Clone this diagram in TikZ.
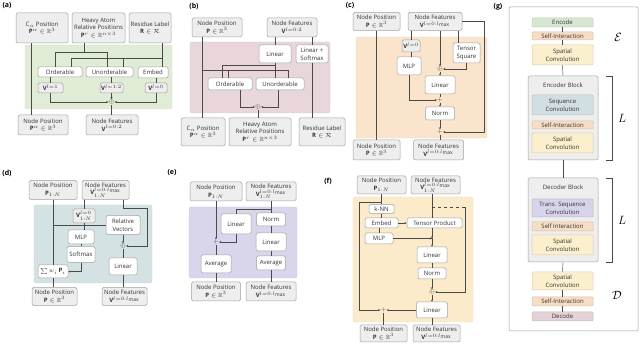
\documentclass[tikz,border=0pt]{standalone}
\usepackage{amsmath, amssymb}
\usepackage{fontspec}
\setmainfont{Open Sans}
\usetikzlibrary{arrows.meta, positioning, calc}
\definecolor{mGreen}{HTML}{E1ECD7}
\definecolor{mPink}{HTML}{E9D6DB}
\definecolor{mPeach}{HTML}{FBE4CC}
\definecolor{mBlueGray}{HTML}{D5E2E4}
\definecolor{mLilac}{HTML}{D9D5EB}
\definecolor{mCream}{HTML}{FCEBCB}
\definecolor{mBox}{HTML}{EEEEEE}
\definecolor{mEdge}{HTML}{A0A0A0}
\definecolor{mWire}{HTML}{4A4A4A}
\definecolor{mEnc}{HTML}{D8E7D2}
\definecolor{mSelf}{HTML}{F7DDC3}
\definecolor{mSpat}{HTML}{FBEFCD}
\definecolor{mSeq}{HTML}{D1DEE2}
\definecolor{mTrans}{HTML}{D6D3EA}
\definecolor{mDec}{HTML}{E4D2D9}
\newcommand{\figfont}{\fontsize{6}{7.8}\selectfont}

\begin{document}
\begin{tikzpicture}[x=1pt, y=-1pt,
    every node/.append style={font=\figfont, text=black!80},
    io/.style={draw=mEdge, fill=mBox, rounded corners=1.5pt, align=center, inner sep=0.5pt, line width=0.5pt},
    op/.style={draw=mEdge, fill=white, rounded corners=1.5pt, align=center, inner sep=0.5pt, line width=0.5pt},
    sz/.style 2 args={minimum width=#1pt, minimum height=#2pt},
    layer/.style={draw=#1!70!gray, fill=#1, rounded corners=1pt, align=center, inner sep=0.5pt, minimum width=61pt, line width=0.5pt},
    panel/.style={fill=#1, draw=#1!85!gray, line width=0.3pt, rounded corners=2pt},
    tag/.style={font=\bfseries\fontsize{7}{8}\selectfont, text=black},
    sumop/.style={inner sep=0pt, font=\fontsize{6}{6}\selectfont, text=mWire},
    big/.style={font=\fontsize{13}{13}\selectfont, text=black},
    wire/.style={draw=mWire, line width=0.45pt},
    arr/.style={wire, -{Stealth[length=2.2pt, width=2pt]}}]
  \useasboundingbox (0,0) rectangle (640,344);

  % (a) encoding
  \node[tag] (aTag) at (7,6) {(a)};
  \path[panel=mGreen] (25,45) rectangle (172,109);
  \node[io, sz={52}{30}] (aCa) at (42,28) {C$_\alpha$ Position\\$\mathbf{P}^{\alpha}\in\mathbb{R}^3$};
  \node[io, sz={53}{30}] (aHeavy) at (98.5,28) {Heavy Atom\\Relative Positions\\$\mathbf{P}^{r}\in\mathbb{R}^{n\times 3}$};
  \node[io, sz={42}{30}] (aRes) at (150,28) {Residue Label\\$\mathbf{R}\in\mathcal{R}$};
  \node[op, sz={44}{10}] (aOrd) at (60,72) {Orderable};
  \node[op, sz={47}{10}] (aUnord) at (109.5,72) {Unorderable};
  \node[op, sz={30}{11}] (aEmb) at (153,72.5) {Embed};
  \node[io, sz={25}{10}] (aV1) at (50.5,88) {$\mathbf{V}^{l=1}$};
  \node[io, sz={23}{10}] (aV12) at (111.5,88) {$\mathbf{V}^{l=1:2}$};
  \node[io, sz={22}{10}] (aV0) at (156,88) {$\mathbf{V}^{l=0}$};
  \node[sumop] (aSum) at (111.5,102) {$\oplus$};
  \node[io, sz={50}{20}] (aPos) at (43,125) {Node Position\\$\mathbf{P}^{\alpha}\in\mathbb{R}^3$};
  \node[io, sz={52}{20}] (aFeat) at (112,125) {Node Features\\$\mathbf{V}^{l=0:2}$};
  \coordinate (aJh) at (84,52);
  \coordinate (aJhl) at (55,52);
  \coordinate (aJhr) at (107,52);
  \coordinate (aJr) at (162,58);
  \coordinate (aJrl) at (71,58);
  \coordinate (aJrm) at (123,58);
  \draw[wire] ([xshift=-11pt]aCa.south) -- ([xshift=-11pt]aCa.south |- aPos.north);
  \draw[wire] (aJh |- aHeavy.south) -- (aJh);
  \draw[wire] (aJhl |- aOrd.north) -- (aJhl) -- (aJhr) -- (aJhr |- aUnord.north);
  \draw[wire] (aJr |- aRes.south) -- (aJr |- aEmb.north);
  \draw[wire] (aJr) -- (aJrl) -- (aJrl |- aOrd.north);
  \draw[wire] (aJrm) -- (aJrm |- aUnord.north);
  \draw[wire] (aV1.north |- aOrd.south) -- (aV1.north);
  \draw[wire] (aV12.north |- aUnord.south) -- (aV12.north);
  \draw[wire] (aV0.north |- aEmb.south) -- (aV0.north);
  \draw[arr] (aV1.south) |- (aSum.west);
  \draw[arr] (aV12.south) -- (aSum.north);
  \draw[arr] (aV0.south) |- (aSum.east);
  \draw[wire] (aSum.south) -- (aSum.south |- aFeat.north);

  % (b) decoding
  \node[tag] (bTag) at (194,6) {(b)};
  \path[panel=mPink] (190,42) rectangle (330,113);
  \node[io, sz={50}{19}] (bPosIn) at (217,27.5) {Node Position\\$\mathbf{P}\in\mathbb{R}^3$};
  \node[io, sz={50}{19}] (bFeatIn) at (292,27.5) {Node Features\\$\mathbf{V}^{l=0:2}$};
  \node[op, sz={32}{18}] (bLin) at (275,54) {Linear};
  \node[op, sz={32}{18}] (bLinSm) at (312,54) {Linear +\\Softmax};
  \node[op, sz={44}{12}] (bOrd) at (230,84) {Orderable};
  \node[op, sz={48}{12}] (bUnord) at (280,84) {Unorderable};
  \node[sumop] (bSum) at (258,107) {$\oplus$};
  \node[io, sz={44}{28}] (bCa) at (203,132) {C$_\alpha$ Position\\$\mathbf{P}^{\alpha}\in\mathbb{R}^3$};
  \node[io, sz={62}{28}] (bHeavy) at (260,132) {Heavy Atom\\Relative Positions\\$\mathbf{P}^{r}\in\mathbb{R}^{n\times 3}$};
  \node[io, sz={46}{28}] (bRes) at (322,132) {Residue Label\\$\mathbf{R}\in\mathcal{R}$};
  \coordinate (bJl) at (275,65);
  \coordinate (bJll) at (222,65);
  \coordinate (bJp) at (202,70);
  \coordinate (bJpl) at (228,70);
  \coordinate (bJpr) at (288,70);
  \draw[wire] ([xshift=-15pt]bPosIn.south) -- ([xshift=-15pt]bPosIn.south |- bCa.north);
  \draw[wire] (bLin.north |- bFeatIn.south) -- (bLin.north);
  \draw[wire] (bLinSm.north |- bFeatIn.south) -- (bLinSm.north);
  \draw[wire] (bLinSm.south) -- (bLinSm.south |- bRes.north);
  \draw[wire] (bLin.south) -- (bLin.south |- bUnord.north);
  \draw[wire] (bJl) -- (bJll) -- (bJll |- bOrd.north);
  \draw[wire] (bJp) -- (bJpr) -- (bJpr |- bUnord.north);
  \draw[wire] (bJpl) -- (bJpl |- bOrd.north);
  \draw[arr] ([xshift=10pt]bOrd.south) |- (bSum.west);
  \draw[arr] ([xshift=-2pt]bUnord.south) |- (bSum.east);
  \draw[wire] (bSum.south) -- (bSum.south |- bHeavy.north);

  % (c) self-interaction
  \node[tag] (cTag) at (350,6) {(c)};
  \path[panel=mPeach] (356,37) rectangle (487,138);
  \node[io, sz={47}{18}] (cPosIn) at (376.5,21.5) {Node Position\\$\mathbf{P}\in\mathbb{R}^3$};
  \node[io, sz={54}{18}] (cFeatIn) at (435,21.5) {Node Features\\$\mathbf{V}^{l=0:l_{\max}}$};
  \node[io, sz={18}{12}] (cV0) at (411,46) {$\mathbf{V}^{l=0}$};
  \node[op, sz={24}{18}] (cMLP) at (409,66) {MLP};
  \node[op, sz={27}{20}] (cTens) at (466.5,53) {Tensor\\Square};
  \node[sumop] (cSum) at (440,69) {$\oplus$};
  \node[op, sz={30}{18}] (cLin) at (440,85) {Linear};
  \node[sumop] (cAddA) at (440,100) {$+$};
  \node[op, sz={29}{13}] (cNorm) at (440,113.5) {Norm};
  \node[sumop] (cAddB) at (440,132) {$+$};
  \node[io, sz={47}{20}] (cPos) at (376.5,150) {Node Position\\$\mathbf{P}\in\mathbb{R}^3$};
  \node[io, sz={50}{20}] (cFeat) at (438.5,150) {Node Features\\$\mathbf{V}^{l=0:l_{\max}}$};
  \coordinate (cRes) at (484,132);
  \draw[wire] (cPosIn.south) -- (cPosIn.south |- cPos.north);
  \draw[wire] (cV0.north |- cFeatIn.south) -- (cV0.north);
  \draw[arr] (cSum |- cFeatIn.south) -- (cSum.north);
  \draw[wire] ([xshift=-8pt]cTens.north |- cFeatIn.south) -- ([xshift=-8pt]cTens.north);
  \draw[arr] (cTens.south) |- (cSum.east);
  \draw[wire] (cV0.south) -- (cV0.south |- cMLP.north);
  \draw[arr] (cMLP.south) |- (cAddA.west);
  \draw[arr] (cSum.south) -- (cLin.north);
  \draw[wire] (cLin.south) -- (cAddA.north);
  \draw[arr] (cAddA.south) -- (cNorm.north);
  \draw[arr] (cNorm.south) -- (cAddB.north);
  \draw[wire] (cAddB.south) -- (cAddB.south |- cFeat.north);
  \draw[arr] (cFeatIn.east) -| (cRes) -- (cAddB.east);

  % (d) spatial convolution, positions
  \node[tag] (dTag) at (7,173) {(d)};
  \path[panel=mBlueGray] (34,205) rectangle (152,283);
  \node[io, sz={48}{19}] (dPosIn) at (53,190) {Node Position\\$\mathbf{P}_{1:N}$};
  \node[io, sz={47}{19}] (dFeatIn) at (105.5,190) {Node Features\\$\mathbf{V}^{l=0:l_{\max}}_{1:N}$};
  \node[io, sz={22}{14}] (dV0) at (84,216) {$\mathbf{V}^{\raisebox{0.5pt}{$\scriptstyle l=0$}}_{\raisebox{-0.8pt}{$\scriptstyle 1:N$}}$};
  \node[op, sz={34}{19}] (dRel) at (123,225) {Relative\\Vectors};
  \node[op, sz={26}{14}] (dMLP) at (81,237) {MLP};
  \node[op, sz={28}{16}] (dSoft) at (81,254.5) {Softmax};
  \node[op, sz={30}{13}] (dWsum) at (53,271.5) {$\sum w_i\,\mathbf{P}_i$};
  \node[sumop] (dSum) at (123,246) {$\oplus$};
  \node[op, sz={28}{17}] (dLin) at (123,266.5) {Linear};
  \node[io, sz={45}{18}] (dPos) at (54.5,296.5) {Node Position\\$\mathbf{P}\in\mathbb{R}^3$};
  \node[io, sz={45}{18}] (dFeat) at (124.5,296.5) {Node Features\\$\mathbf{V}^{l=0:l_{\max}}$};
  \coordinate (dRt) at (147,208);
  \draw[wire] (dPosIn.south) -- (dWsum.north);
  \draw[wire] (dWsum.south) -- (dWsum.south |- dPos.north);
  \draw[wire] (dPosIn.south |- dRel.west) -- (dRel.west);
  \draw[wire] (dV0.north |- dFeatIn.south) -- (dV0.north);
  \draw[arr] (dSum |- dFeatIn.south) |- (dRt) |- (dSum.east);
  \draw[wire] (dV0.south) -- (dV0.south |- dMLP.north);
  \draw[wire] (dMLP.south) -- (dSoft.north);
  \draw[arr] (dSoft.south) |- (dWsum.east);
  \draw[arr] (dRel.south) -- (dSum.north);
  \draw[wire] (dSum.south) -- (dLin.north);
  \draw[wire] (dLin.south) -- (dLin.south |- dFeat.north);

  % (e) sequence convolution
  \node[tag] (eTag) at (172,173) {(e)};
  \path[panel=mLilac] (189,207) rectangle (297,278);
  \node[io, sz={52}{19}] (ePosIn) at (216,191.5) {Node Position\\$\mathbf{P}_{1:N}$};
  \node[io, sz={50}{19}] (eFeatIn) at (271,191.5) {Node Features\\$\mathbf{V}^{l=0:l_{\max}}_{1:N}$};
  \node[op, sz={30}{20}] (eLinL) at (236,224) {Linear};
  \node[op, sz={29}{13}] (eNorm) at (271,219.5) {Norm};
  \node[op, sz={30}{18}] (eLinR) at (271,242) {Linear};
  \node[op, sz={29}{14}] (eAvgR) at (271,263) {Average};
  \node[sumop] (eAdd) at (216,242) {$+$};
  \node[op, sz={30}{18}] (eAvgL) at (216,264) {Average};
  \node[io, sz={49}{19}] (ePos) at (216,291.5) {Node Position\\$\mathbf{P}\in\mathbb{R}^3$};
  \node[io, sz={50}{19}] (eFeat) at (271,291.5) {Node Features\\$\mathbf{V}^{l=0:l_{\max}}$};
  \coordinate (eJ) at (271,209);
  \draw[arr] (ePosIn.south) -- (eAdd.north);
  \draw[arr] (eLinL.south) |- (eAdd.east);
  \draw[wire] (eAdd.south) -- (eAvgL.north);
  \draw[wire] (eAvgL.south) -- (ePos.north);
  \draw[wire] (eFeatIn.south) -- (eNorm.north);
  \draw[wire] (eJ) -| (eLinL.north);
  \draw[wire] (eNorm.south) -- (eLinR.north);
  \draw[wire] (eLinR.south) -- (eAvgR.north);
  \draw[wire] (eAvgR.south) -- (eFeat.north);

  % (f) spatial convolution, features
  \node[tag] (fTag) at (328,181) {(f)};
  \path[panel=mCream] (353,197) rectangle (473,322);
  \node[io, sz={49}{18}] (fPosIn) at (381.5,185) {Node Position\\$\mathbf{P}_{1:N}$};
  \node[io, sz={49}{18}] (fFeatIn) at (435.5,185) {Node Features\\$\mathbf{V}^{l=0:l_{\max}}_{1:N}$};
  \node[op, sz={25}{9}] (fKnn) at (381.5,209) {k-NN};
  \node[op, sz={33}{10}] (fEmb) at (381.5,223) {Embed};
  \node[op, sz={28}{11}] (fMLP) at (379,238.5) {MLP};
  \node[op, sz={55}{10}] (fTP) at (434.5,223) {Tensor Product};
  \coordinate (fMid) at (432,238.5);
  \node[op, sz={30}{16}] (fLinA) at (432,255) {Linear};
  \node[op, sz={28}{11}] (fNorm) at (432,273.5) {Norm};
  \node[sumop] (fSum) at (432,292) {$\oplus$};
  \node[op, sz={31}{16}] (fLinB) at (432,310) {Linear};
  \node[sumop] (fAdd) at (383.5,310) {$+$};
  \node[io, sz={47}{17}] (fPos) at (383.5,333.5) {Node Position\\$\mathbf{P}\in\mathbb{R}^3$};
  \node[io, sz={47}{17}] (fFeat) at (436.5,333.5) {Node Features\\$\mathbf{V}^{l=0:l_{\max}}$};
  \coordinate (fPJ) at (381.5,202);
  \coordinate (fPL) at (359,202);
  \coordinate (fFJ) at (432,207);
  \coordinate (fFR) at (465,207);
  \draw[wire] (fPosIn.south) -- (fKnn.north);
  \draw[wire] (fKnn.south) -- (fEmb.north);
  \draw[wire] (fMLP.north |- fEmb.south) -- (fMLP.north);
  \draw[arr] (fEmb.east) -- (fTP.west);
  \draw[arr] (fMLP.east) -- (fMid);
  \draw[wire] (fMid |- fFeatIn.south) -- (fMid |- fTP.north);
  \draw[arr] (fMid |- fTP.south) -- (fMid);
  \fill[mWire] (fMid) circle (0.6pt);
  \draw[arr] (fMid) -- (fLinA.north);
  \draw[wire] (fLinA.south) -- (fNorm.north);
  \draw[arr] (fNorm.south) -- (fSum.north);
  \draw[arr] (fSum.south) -- (fLinB.north);
  \draw[wire] (fLinB.south) -- (fLinB.south |- fFeat.north);
  \draw[arr] (fLinB.west) -- (fAdd.east);
  \draw[arr] (fPJ) -- (fPL) |- (fAdd.west);
  \draw[wire] (fAdd.south) -- (fAdd.south |- fPos.north);
  \draw[wire, dashed] (fFJ) -- (fFR);
  \draw[arr] (fFR) |- (fSum.east);

  % (g) full model
  \node[tag] (gTag) at (498,7) {(g)};
  \draw[mEdge, line width=0.5pt, rounded corners=1pt] (509,7) rectangle (638,331);
  \node[layer=mEnc, minimum height=9pt] (gEnc) at (562.5,22.5) {Encode};
  \node[layer=mSelf, minimum height=8pt] (gSelfA) at (562.5,36) {Self-Interaction};
  \node[layer=mSpat, minimum height=20pt] (gSpatA) at (562.5,55) {Spatial\\Convolution};
  \node[io, sz={70}{84}] (gEncBlk) at (563,118) {};
  \node (gEncTitle) at (563,85) {Encoder Block};
  \node[layer=mSeq, minimum height=20pt] (gSeq) at (562.5,105) {Sequence\\Convolution};
  \node[layer=mSelf, minimum height=8pt] (gSelfB) at (562.5,125) {Self-Interaction};
  \node[layer=mSpat, minimum height=20pt] (gSpatB) at (562.5,143) {Spatial\\Convolution};
  \node[io, sz={70}{84}] (gDecBlk) at (563,220) {};
  \node (gDecTitle) at (563,187) {Decoder Block};
  \node[layer=mTrans, minimum height=18pt] (gTrans) at (562.5,208) {Trans. Sequence\\Convolution};
  \node[layer=mSelf, minimum height=9pt] (gSelfC) at (562.5,226.5) {Self Interaction};
  \node[layer=mSpat, minimum height=20pt] (gSpatC) at (562.5,245) {Spatial\\Convolution};
  \node[layer=mSpat, minimum height=18pt] (gSpatD) at (562.5,281) {Spatial\\Convolution};
  \node[layer=mSelf, minimum height=9pt] (gSelfD) at (562.5,301.5) {Self-Interaction};
  \node[layer=mDec, minimum height=9pt] (gDec) at (562.5,316.5) {Decode};
  \node[big] (gEsym) at (618,37) {$\mathcal{E}$};
  \node[big] (gLenc) at (622,118) {$L$};
  \node[big] (gLdec) at (622,220) {$L$};
  \node[big] (gDsym) at (617,295) {$\mathcal{D}$};
  \draw[wire] ([xshift=8pt]gEncBlk.north east) -- ([xshift=14pt]gEncBlk.north east) -- ([xshift=14pt]gEncBlk.south east) -- ([xshift=8pt]gEncBlk.south east);
  \draw[wire] ([xshift=8pt]gDecBlk.north east) -- ([xshift=14pt]gDecBlk.north east) -- ([xshift=14pt]gDecBlk.south east) -- ([xshift=8pt]gDecBlk.south east);
  \draw[wire] (gEnc.south) -- (gSelfA.north);
  \draw[wire] (gSelfA.south) -- (gSpatA.north);
  \draw[wire] (gSpatA.south) -- (gEncBlk.north);
  \draw[wire] (gEncBlk.south) -- (gDecBlk.north);
  \draw[wire] (gDecBlk.south) -- (gSpatD.north);
  \draw[wire] (gSpatD.south) -- (gSelfD.north);
  \draw[wire] (gSelfD.south) -- (gDec.north);
\end{tikzpicture}
\end{document}
